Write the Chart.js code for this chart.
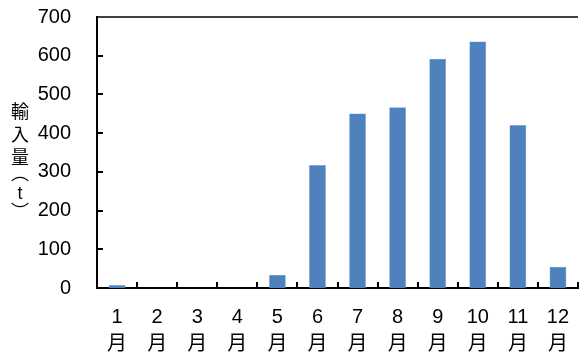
<!DOCTYPE html>
<html>
<head>
<meta charset="utf-8">
<script src="https://cdn.jsdelivr.net/npm/chart.js@4.4.1/dist/chart.umd.min.js"></script>
<style>
  html, body { margin: 0; padding: 0; background: #fff; }
  #wrap { width: 579px; height: 354px; }
</style>
</head>
<body>
<div id="wrap"><canvas id="chart" width="579" height="354"></canvas></div>
<script>
const months = ["1", "2", "3", "4", "5", "6", "7", "8", "9", "10", "11", "12"];
const monthSuffix = "月";
const imports = [8, 0, 0, 0, 34, 318, 451, 467, 592, 637, 421, 55];
const yTitleChars = ["輸", "入", "量", "︵", "t", "︶"];
const yMax = 700;
const yStep = 100;

const fontFamily = "'Liberation Sans', Arial, 'Noto Sans CJK JP', sans-serif";

// vertical, upright y axis title
const verticalTitle = {
  id: "verticalTitle",
  afterDraw(chart) {
    const ctx = chart.ctx;
    ctx.save();
    ctx.fillStyle = "#000";
    ctx.textAlign = "center";
    ctx.textBaseline = "middle";
    const ys = [111, 134, 157, 173, 194, 211];
    yTitleChars.forEach((c, i) => {
      if (c === "t") ctx.font = "18px 'Liberation Sans', Arial, sans-serif";
      else ctx.font = "18px 'Noto Sans CJK JP', sans-serif";
      ctx.fillText(c, 20, ys[i]);
    });
    ctx.restore();
  }
};

// tick marks pointing into the plot, plus the top frame line
const frameTicks = {
  id: "frameTicks",
  afterDatasetsDraw(chart) {
    const ctx = chart.ctx;
    const x = chart.scales.x, y = chart.scales.y;
    const area = chart.chartArea;
    ctx.save();
    ctx.strokeStyle = "#000";
    ctx.lineWidth = 2;
    ctx.beginPath();
    for (let v = yStep; v < yMax; v += yStep) {
      const py = Math.round(y.getPixelForValue(v));
      ctx.moveTo(area.left, py);
      ctx.lineTo(area.left + 6, py);
    }
    for (let i = 1; i <= months.length; i++) {
      const px = Math.round(x.getPixelForValue(i - 0.5));
      ctx.moveTo(px, area.bottom);
      ctx.lineTo(px, area.bottom - 6);
    }
    ctx.stroke();
    ctx.lineWidth = 1.5;
    ctx.beginPath();
    ctx.moveTo(area.left, area.top);
    ctx.lineTo(area.right, area.top);
    ctx.stroke();
    ctx.restore();
  }
};

new Chart(document.getElementById("chart"), {
  type: "bar",
  data: {
    labels: months.map(m => [m, monthSuffix]),
    datasets: [{
      data: imports,
      backgroundColor: "#4F81BD",
      borderColor: "#7fa3d0",
      borderWidth: 0.5,
      barPercentage: 0.6,
      categoryPercentage: 0.7
    }]
  },
  options: {
    responsive: false,
    animation: false,
    layout: { padding: { left: 0, right: 1, top: 17, bottom: 0 } },
    plugins: { legend: { display: false }, tooltip: { enabled: false } },
    scales: {
      x: {
        grid: { display: false },
        border: { color: "#000", width: 2 },
        ticks: {
          color: "#000", padding: 8, maxRotation: 0, autoSkip: false,
          font: { family: fontFamily, size: 20, lineHeight: 1.35 }
        },
        afterFit: s => { s.height = 66; s.paddingLeft = 0; s.paddingRight = 0; }
      },
      y: {
        min: 0, max: yMax,
        ticks: {
          stepSize: yStep, color: "#000", padding: 18,
          font: { family: fontFamily, size: 20 }
        },
        grid: { display: false },
        border: { color: "#000", width: 2 },
        afterFit: s => { s.width = 97; s.paddingTop = 0; s.paddingBottom = 0; }
      }
    }
  },
  plugins: [verticalTitle, frameTicks]
});
</script>
</body>
</html>
